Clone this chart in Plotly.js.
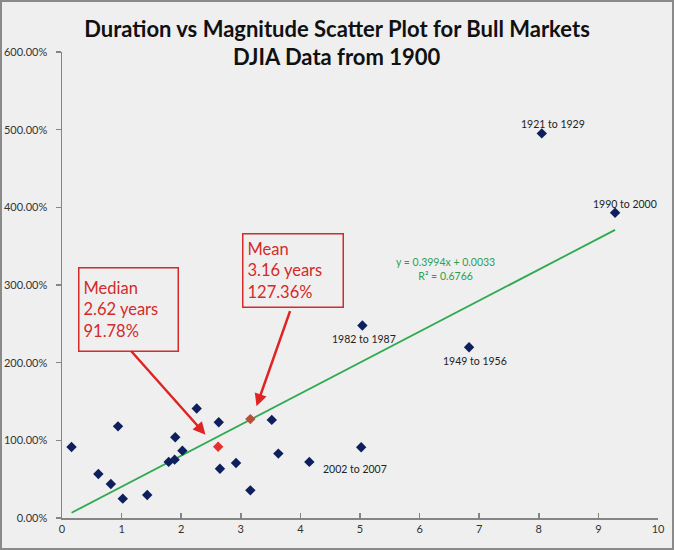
<!DOCTYPE html>
<html>
<head>
<meta charset="utf-8">
<script src="https://cdn.plot.ly/plotly-3.0.1.min.js"></script>
<style>
  body { margin: 0; background: #efefef; }
  #chart { width: 674px; height: 550px; }
  #frame { position: absolute; left: 0; top: 0; width: 674px; height: 550px;
           box-sizing: border-box; border: 2px solid #8a8a8a; pointer-events: none; }
</style>
</head>
<body>
<div id="chart"></div>
<div id="frame"></div>
<script>
// bull market duration (years) and gain (fraction)
var durationYears = [0.16, 0.61, 0.82, 0.94, 1.02, 1.43, 1.79, 1.89, 1.90, 2.02,
                     2.26, 2.63, 2.65, 2.92, 3.16, 3.52, 3.63, 4.15, 5.02, 5.04,
                     6.83, 8.05, 9.28];
var gainPct = [0.915, 0.567, 0.438, 1.180, 0.249, 0.296, 0.722, 0.751, 1.039, 0.867,
               1.409, 1.232, 0.635, 0.709, 0.356, 1.263, 0.829, 0.722, 0.910, 2.478,
               2.198, 4.952, 3.930];
var periodLabels = ['', '', '', '', '', '', '', '', '', '',
                    '', '', '', '', '', '', '', '2002 to 2007', '', '1982 to 1987',
                    '1949 to 1956', '1921 to 1929', '1990 to 2000'];

var medianYears = 2.62, medianGain = 0.9178;
var meanYears = 3.16, meanGain = 1.2736;

var trendSlope = 0.3994, trendIntercept = 0.0033, trendR2 = 0.6766;

var titleLines = ['Duration vs Magnitude Scatter Plot for Bull Markets', 'DJIA Data from 1900'];

var red = '#d42a2a';
var labelFont = {family: 'Lato, sans-serif', size: 10.5, color: '#222222'};
var titleFont = {family: 'Lato, sans-serif', size: 22, color: '#111111', weight: 'bold'};

// where each period label sits relative to its point (pixels)
var labelShift = {
    '2002 to 2007': {xanchor: 'left', yanchor: 'middle', xshift: 12, yshift: -7},
    '1982 to 1987': {xanchor: 'center', yanchor: 'top', xshift: 2, yshift: -5},
    '1949 to 1956': {xanchor: 'center', yanchor: 'top', xshift: 6, yshift: -6},
    '1921 to 1929': {xanchor: 'center', yanchor: 'bottom', xshift: 11, yshift: 1},
    '1990 to 2000': {xanchor: 'center', yanchor: 'bottom', xshift: 10, yshift: 1}
};

var xMin = Math.min.apply(null, durationYears);
var xMax = Math.max.apply(null, durationYears);

var traces = [{
    x: [xMin, xMax],
    y: [trendSlope * xMin + trendIntercept, trendSlope * xMax + trendIntercept],
    mode: 'lines',
    line: {color: '#2eaa4f', width: 1.8},
    hoverinfo: 'skip'
}, {
    x: durationYears,
    y: gainPct,
    mode: 'markers',
    marker: {symbol: 'diamond', size: 8, color: '#0d1f5c'}
}, {
    x: [medianYears],
    y: [medianGain],
    mode: 'markers',
    marker: {symbol: 'diamond', size: 8, color: '#e8312f'}
}, {
    x: [meanYears],
    y: [meanGain],
    mode: 'markers',
    marker: {symbol: 'diamond', size: 8, color: '#b5503a'}
}];

var annotations = [];
for (var i = 0; i < periodLabels.length; i++) {
    if (!periodLabels[i]) continue;
    var s = labelShift[periodLabels[i]];
    annotations.push({
        x: durationYears[i], y: gainPct[i], text: periodLabels[i],
        showarrow: false, font: labelFont,
        xanchor: s.xanchor, yanchor: s.yanchor, xshift: s.xshift, yshift: s.yshift
    });
}

// second title line
annotations.push({
    xref: 'paper', yref: 'paper', x: 0.4614, y: 0.991, yanchor: 'middle',
    text: titleLines[1], showarrow: false, font: titleFont
});

annotations.push({
    x: 6.43, y: 3.2, showarrow: false,
    text: 'y = ' + trendSlope + 'x + ' + trendIntercept + '<br>R² = ' + trendR2,
    font: {family: 'Lato, sans-serif', size: 10.5, color: '#2e9e4e'}
});

var boxFont = {family: 'Lato, sans-serif', size: 16.5, color: red};
annotations.push({
    x: 0.269, y: 3.235, xanchor: 'left', yanchor: 'top', showarrow: false,
    text: 'Median<br>' + medianYears + ' years<br>' + (medianGain * 100).toFixed(2) + '%',
    align: 'left', font: boxFont, bordercolor: red, borderwidth: 1.5,
    borderpad: 4, width: 90, height: 74, valign: 'middle'
});
annotations.push({
    x: 3.023, y: 3.673, xanchor: 'left', yanchor: 'top', showarrow: false,
    text: 'Mean<br>' + meanYears + ' years<br>' + (meanGain * 100).toFixed(2) + '%',
    align: 'left', font: boxFont, bordercolor: red, borderwidth: 1.5,
    borderpad: 4, width: 91, height: 64, valign: 'middle'
});
// arrows from the boxes
annotations.push({
    x: 2.408, y: 1.073, ax: 1.137, ay: 2.169, axref: 'x', ayref: 'y',
    text: '', showarrow: true, arrowhead: 2, arrowsize: 1, arrowwidth: 2.5, arrowcolor: '#e02424'
});
annotations.push({
    x: 3.264, y: 1.438, ax: 3.835, ay: 2.684, axref: 'x', ayref: 'y',
    text: '', showarrow: true, arrowhead: 2, arrowsize: 1, arrowwidth: 2.5, arrowcolor: '#e02424'
});

var layout = {
    width: 674,
    height: 550,
    margin: {l: 62, r: 16, t: 52, b: 32},
    paper_bgcolor: '#efefef',
    plot_bgcolor: '#efefef',
    showlegend: false,
    font: {family: 'Lato, sans-serif', color: '#333333'},
    title: {
        text: titleLines[0],
        font: titleFont,
        xref: 'container', x: 0.5, yref: 'container', y: 1 - 29 / 550, yanchor: 'middle'
    },
    xaxis: {
        range: [0, 10], dtick: 1, showgrid: false, zeroline: false,
        showline: true, linecolor: '#858585', linewidth: 1.5,
        ticks: 'inside', ticklen: 5, tickcolor: '#858585', tickwidth: 1.5,
        tickfont: {size: 11, color: '#333333'}
    },
    yaxis: {
        range: [0, 6], dtick: 1, tickformat: '.2%', showgrid: false, zeroline: false,
        showline: true, linecolor: '#858585', linewidth: 1.5,
        ticks: 'outside', ticklen: 5, tickcolor: '#858585', tickwidth: 1.5,
        ticklabelstandoff: 6,
        tickfont: {size: 11, color: '#333333'}
    },
    annotations: annotations
};

Plotly.newPlot('chart', traces, layout, {displayModeBar: false, staticPlot: true});
</script>
</body>
</html>
